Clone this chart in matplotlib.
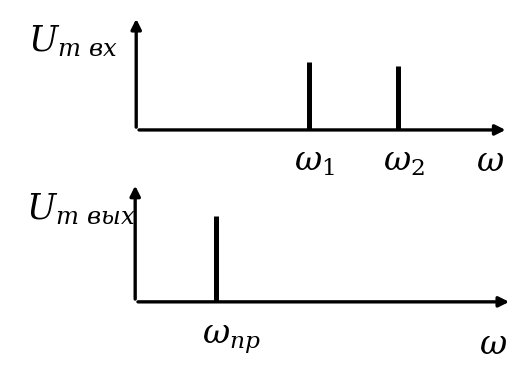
import matplotlib.pyplot as plt

# spectrum data (arbitrary frequency units, relative amplitudes)
freq_in = [4.65, 7.04]
amp_in = [0.60, 0.56]
labels_in = [r"$\omega_1$", r"$\omega_2$"]

freq_out = [2.15]
amp_out = [0.72]
labels_out = [r"$\omega_{пр}$"]

plt.rcParams["mathtext.fontset"] = "dejavuserif"

fig = plt.figure(figsize=(5.14, 3.65), dpi=100)
ax1 = fig.add_axes([0.265, 0.644, 0.724, 0.312])
ax2 = fig.add_axes([0.263, 0.173, 0.733, 0.326])


def draw_axes(ax, ylabel, ylab_x, wy):
    ax.set_xlim(0, 10)
    ax.set_ylim(0, 1)
    ax.axis("off")
    arrow = dict(arrowstyle="-|>", color="black", lw=2.4, mutation_scale=15)
    ax.annotate("", xy=(1.0, 0), xytext=(0, 0), xycoords="axes fraction", arrowprops=arrow)
    ax.annotate("", xy=(0, 1.0), xytext=(0, 0), xycoords="axes fraction", arrowprops=arrow)
    ax.text(ylab_x, 0.78, ylabel, transform=ax.transAxes, ha="right", va="center", fontsize=25)
    ax.text(0.95, wy, r"$\omega$", transform=ax.transAxes, ha="center", va="center", fontsize=24)


draw_axes(ax1, r"$U_{m\ вх}$", -0.05, -0.28)
ax1.vlines(freq_in, 0, amp_in, color="black", lw=3.6)
for f, lab in zip(freq_in, labels_in):
    ax1.text(f + 0.15, -0.28, lab, ha="center", va="center", fontsize=24)

draw_axes(ax2, r"$U_{m\ вых}$", 0.0, -0.36)
ax2.vlines(freq_out, 0, amp_out, color="black", lw=3.6)
for f, lab in zip(freq_out, labels_out):
    ax2.text(f + 0.4, -0.32, lab, ha="center", va="center", fontsize=24)

fig.savefig("out.png", dpi=100)
